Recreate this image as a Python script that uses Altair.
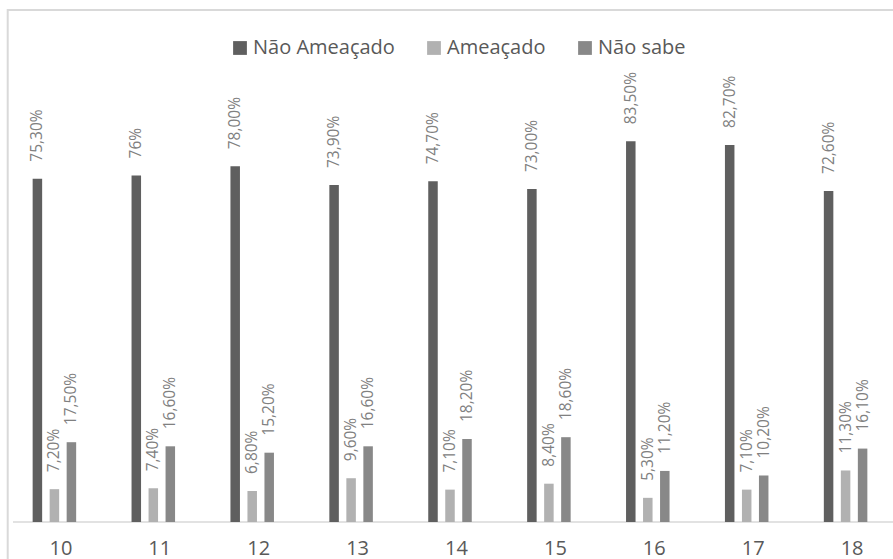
import altair as alt
import pandas as pd

# Grupos etários e séries
grupos = ["10", "11", "12", "13", "14", "15", "16", "17", "18"]
series = ["Não Ameaçado", "Ameaçado", "Não sabe"]

nao_ameacado = [75.3, 76.0, 78.0, 73.9, 74.7, 73.0, 83.5, 82.7, 72.6]
ameacado = [7.2, 7.4, 6.8, 9.6, 7.1, 8.4, 5.3, 7.1, 11.3]
nao_sabe = [17.5, 16.6, 15.2, 16.6, 18.2, 18.6, 11.2, 10.2, 16.1]

# Rótulos como aparecem sobre as barras
rotulos_nao_ameacado = ["75,30%", "76%", "78,00%", "73,90%", "74,70%",
                        "73,00%", "83,50%", "82,70%", "72,60%"]

cores = ["#5f5f5f", "#b1b1b1", "#888888"]
fonte = "Open Sans"
cinza_borda = "#d9d9d9"

LARGURA = 886
ALTURA = 513


def pct(v):
    return f"{v:.2f}".replace(".", ",") + "%"


linhas = []
for i, g in enumerate(grupos):
    linhas.append({"grupo": g, "serie": series[0], "valor": nao_ameacado[i],
                   "rotulo": rotulos_nao_ameacado[i]})
    linhas.append({"grupo": g, "serie": series[1], "valor": ameacado[i],
                   "rotulo": pct(ameacado[i])})
    linhas.append({"grupo": g, "serie": series[2], "valor": nao_sabe[i],
                   "rotulo": pct(nao_sabe[i])})
df = pd.DataFrame(linhas)

base = alt.Chart(df).encode(
    x=alt.X(
        "grupo:N",
        sort=grupos,
        scale=alt.Scale(paddingInner=0.56, paddingOuter=0.2593),
        axis=alt.Axis(
            title=None,
            labelAngle=0,
            domain=False,
            ticks=False,
            tickSize=0,
            labelFont=fonte,
            labelFontSize=20,
            labelColor="#595959",
            labelPadding=16,
            labelOffset=6.5,
        ),
    ),
    xOffset=alt.XOffset(
        "serie:N",
        sort=series,
        scale=alt.Scale(paddingInner=0.441, paddingOuter=0),
    ),
    y=alt.Y("valor:Q", scale=alt.Scale(domain=[0, 112.5]), axis=None),
)

barras = base.mark_bar().encode(
    color=alt.Color(
        "serie:N",
        sort=series,
        scale=alt.Scale(domain=series, range=cores),
        legend=alt.Legend(
            title=None,
            orient="none",
            direction="horizontal",
            legendX=223,
            legendY=29,
            padding=0,
            symbolType="square",
            symbolSize=190,
            symbolStrokeWidth=0,
            labelFont=fonte,
            labelFontSize=20,
            labelColor="#595959",
            labelOffset=3,
            columnPadding=29,
        ),
    )
)

rotulos = base.mark_text(
    angle=270,
    align="left",
    baseline="middle",
    dx=17,
    font=fonte,
    fontSize=15.5,
    color="#808080",
).encode(text="rotulo:N")

quadro = alt.Chart(pd.DataFrame({"k": [0]}))

# Moldura da área do gráfico (linhas superior e esquerda)
moldura_topo = quadro.mark_rule(color=cinza_borda, strokeWidth=2).encode(
    x=alt.value(0), x2=alt.value(LARGURA), y=alt.value(1)
)
moldura_esq = quadro.mark_rule(color=cinza_borda, strokeWidth=2).encode(
    x=alt.value(0.7), y=alt.value(0), y2=alt.value(ALTURA + 40)
)

# Linha de base do eixo das categorias
linha_base = quadro.mark_rule(color=cinza_borda, strokeWidth=1.5).encode(
    x=alt.value(6), x2=alt.value(LARGURA), y=alt.value(ALTURA)
)

chart = (
    alt.layer(moldura_topo, moldura_esq, linha_base, barras, rotulos)
    .properties(
        width=LARGURA,
        height=ALTURA,
        autosize=alt.AutoSizeParams(type="none"),
        padding={"left": 7, "top": 9, "right": 0, "bottom": 37},
        background="white",
    )
    .configure_view(strokeWidth=0)
)

chart.save("out.html", embed_options={"renderer": "svg", "actions": False})
